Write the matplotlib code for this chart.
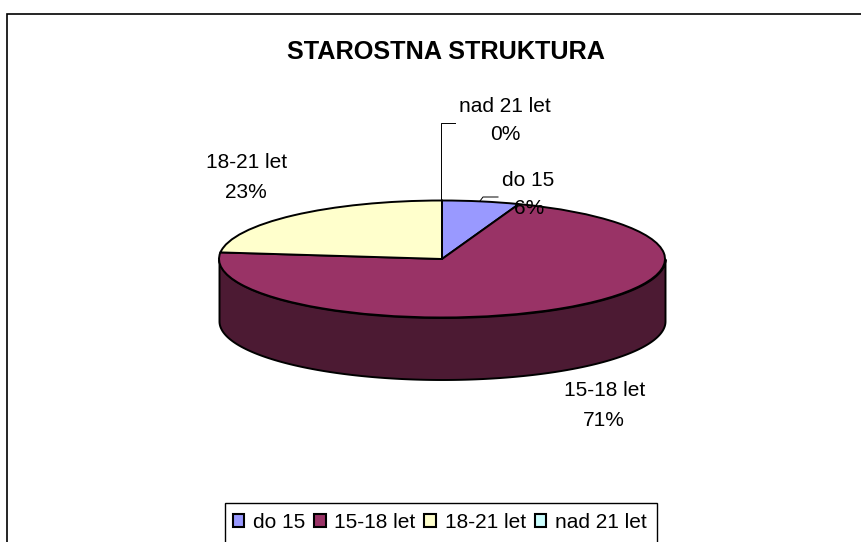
"""Starostna struktura: 3D style pie chart with a flat legend strip."""
import numpy as np
import matplotlib
matplotlib.use("Agg")
import matplotlib.pyplot as plt
from matplotlib.patches import Patch

plt.rcParams["font.family"] = ["Liberation Sans", "DejaVu Sans"]

title = "STAROSTNA STRUKTURA"
categories = ["do 15", "15-18 let", "18-21 let", "nad 21 let"]
shares = [5.6, 71.2, 23.2, 0.0]
colors = ["#9999FF", "#993366", "#FFFFCC", "#CCFFFF"]
side_colors = ["#4C4C80", "#4C1A33", "#808066", "#668080"]

W, H = 862, 542
CX, CY, RX, RY, DEPTH = 442, 259, 223, 58.5, 62

fig = plt.figure(figsize=(W / 100, H / 100), dpi=100, facecolor="white")

# pie axes: one data unit is RX pixels across and RY pixels down
ax = fig.add_axes([0, 0, 1, 1])
wedges, _ = ax.pie(shares, colors=colors, startangle=90, counterclock=False,
                   wedgeprops=dict(edgecolor="black", linewidth=1.4))
ax.set_aspect("auto")
ax.set_xlim(-CX / RX, (W - CX) / RX)
ax.set_ylim((CY - H) / RY, CY / RY)

# side wall, only the part of each wedge facing the viewer
for wedge, side in zip(wedges, side_colors):
    lo, hi = wedge.theta1, wedge.theta2
    for shift in (0, 360, -360):
        a, b = max(lo + shift, 180), min(hi + shift, 360)
        if b > a:
            t = np.radians(np.linspace(a, b, 200))
            ax.fill_between(np.cos(t), np.sin(t), np.sin(t) - DEPTH / RY,
                            facecolor=side, edgecolor="black", linewidth=1.4, zorder=0)

# overlay in pixel coordinates for frame, texts and leaders
ov = fig.add_axes([0, 0, 1, 1], zorder=5)
ov.set_xlim(0, W)
ov.set_ylim(H, 0)
ov.axis("off")

ov.plot([W, 7, 7], [14, 14, H], color="black", lw=1.2, solid_joinstyle="miter")
ov.plot([225, 225, 657, 657], [H, 503, 503, H], color="black", lw=1.0, solid_joinstyle="miter")

ov.text(446, 52, title, ha="center", va="center", fontsize=18.2, fontweight="bold")

label_pos = [(528, 180, 529, 208), (605, 391, 604, 420),
             (247, 163, 246, 192), (505, 106, 505, 135)]
for name, share, (x1, y1, x2, y2) in zip(categories, shares, label_pos):
    ov.text(x1, y1, name, ha="center", va="center", fontsize=15)
    ov.text(x2, y2, f"{share:.0f}%", ha="center", va="center", fontsize=15)

# leader lines
ov.plot([441, 441, 455], [201, 123, 123], color="black", lw=0.7)
ov.plot([480, 483, 498], [201, 197, 197], color="black", lw=0.7)

handles = [Patch(facecolor=c, edgecolor="black", linewidth=1.5) for c in colors]
ov.legend(handles, categories, ncol=4, frameon=False, fontsize=15,
          loc="center left", bbox_to_anchor=(233 / W, 1 - 522.5 / H),
          bbox_transform=fig.transFigure, borderaxespad=0, borderpad=0,
          handlelength=0.55, handleheight=0.55, handletextpad=0.42, columnspacing=0.42)

fig.savefig("out.png", dpi=100)
